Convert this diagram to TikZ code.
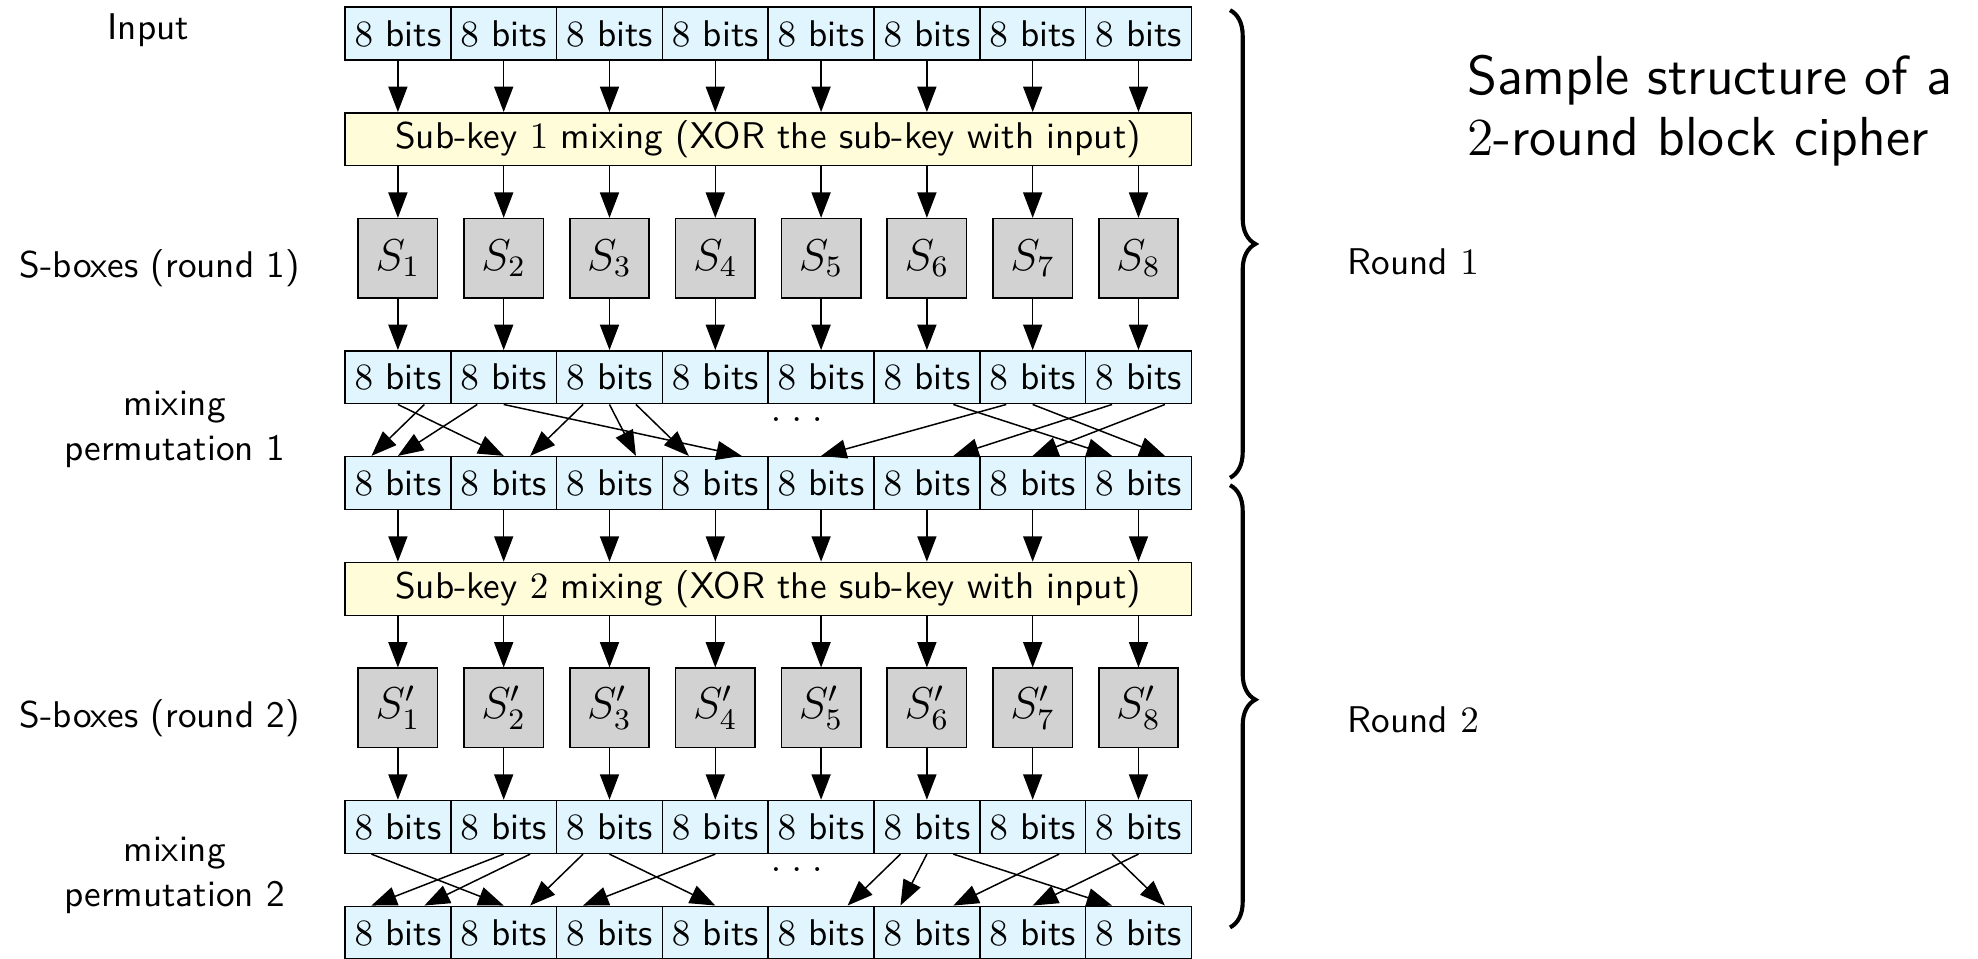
\documentclass[tikz,border=0pt]{standalone}
\usepackage{tikz}
\usetikzlibrary{arrows.meta, positioning, calc, decorations.pathreplacing}

\begin{document}
\begin{tikzpicture}[
    font=\sffamily,
    bits/.style={rectangle, draw, fill=cyan!12, minimum width=1cm,
                 minimum height=0.5cm, inner sep=0pt},
    keybox/.style={rectangle, draw, fill=yellow!15, minimum width=8cm,
                   minimum height=0.5cm, inner sep=0pt},
    sbox/.style={rectangle, draw, fill=gray!35, minimum width=0.75cm,
                 minimum height=0.75cm, inner sep=0pt, font=\large},
    arrow/.style={-{Triangle[length=2.4mm, width=1.8mm]}},
    bracket/.style={decorate, decoration={brace, amplitude=2.4mm, #1}, line width=1.1pt},
    bracket/.default={aspect=0.5},
    side/.style={inner sep=0pt, align=center}
]
    \useasboundingbox (-3.261, 0.316) rectangle (15.435, -8.739);

    % Rows of boxes
    \foreach \i in {1,...,8} {
        \node[bits] (x0-\i) at (\i-0.5, 0) {$8$ bits};
        \node[sbox] (s1-\i) at (\i-0.5, -2.125) {$S_{\i}$};
        \node[bits] (y1-\i) at (\i-0.5, -3.25) {$8$ bits};
        \node[bits] (x1-\i) at (\i-0.5, -4.25) {$8$ bits};
        \node[sbox] (s2-\i) at (\i-0.5, -6.375) {$S'_{\i}$};
        \node[bits] (y2-\i) at (\i-0.5, -7.5) {$8$ bits};
        \node[bits] (x2-\i) at (\i-0.5, -8.5) {$8$ bits};
    }
    \node[keybox] (k1) at (4, -1) {Sub-key $1$ mixing (XOR the sub-key with input)};
    \node[keybox] (k2) at (4, -5.25) {Sub-key $2$ mixing (XOR the sub-key with input)};

    % Straight arrows
    \foreach \i in {1,...,8} {
        \draw[arrow] (x0-\i) -- (x0-\i |- k1.north);
        \draw[arrow] (x0-\i |- k1.south) -- (s1-\i);
        \draw[arrow] (s1-\i) -- (y1-\i);
        \draw[arrow] (x1-\i) -- (x1-\i |- k2.north);
        \draw[arrow] (x1-\i |- k2.south) -- (s2-\i);
        \draw[arrow] (s2-\i) -- (y2-\i);
    }

    % Mixing permutations
    \foreach \a/\da/\b/\db in {1/0/2/0, 1/0.25/1/-0.25, 2/-0.25/1/0, 2/0/4/0.25,
                               3/-0.25/2/0.25, 3/0/3/0.25, 3/0.25/4/-0.25, 7/-0.25/5/0,
                               6/0.25/8/-0.25, 7/0/8/0.25, 8/-0.25/6/0.25, 8/0.25/7/0}
        \draw[arrow] ([xshift=\da cm]y1-\a.south) -- ([xshift=\db cm]x1-\b.north);
    \foreach \a/\da/\b/\db in {1/-0.25/2/0, 2/0/1/-0.25, 2/0.25/1/0.25, 3/-0.25/2/0.25,
                               3/0/4/0, 4/0/3/-0.25, 6/-0.25/5/0.25, 6/0/6/-0.25,
                               6/0.25/8/-0.25, 7/0.25/6/0.25, 8/-0.25/8/0.25, 8/0/7/0}
        \draw[arrow] ([xshift=\da cm]y2-\a.south) -- ([xshift=\db cm]x2-\b.north);
    \node[inner sep=0pt, anchor=base] (dots1) at (4.27, -3.67) {$.\;.\;.$};
    \node[inner sep=0pt, anchor=base] (dots2) at (4.27, -7.92) {$.\;.\;.$};

    % Labels
    \node[side] (lin) at (-1.86, 0.03) {Input};
    \node[side] (ls1) at (-1.75, -2.22) {S-boxes (round 1)};
    \node[side] (lp1) at (-1.61, -3.74) {mixing\\permutation 1};
    \node[side] (ls2) at (-1.75, -6.47) {S-boxes (round 2)};
    \node[side] (lp2) at (-1.61, -7.96) {mixing\\permutation 2};

    % Rounds
    \draw[bracket] (8.365, 0.22) -- (8.365, -4.20);
    \draw[bracket={aspect=0.485}] (8.365, -4.27) -- (8.365, -8.45);
    \node[side, anchor=west] (r1) at (9.47, -2.16) {Round $1$};
    \node[side, anchor=west] (r2) at (9.47, -6.49) {Round $2$};
    \node[side, anchor=west, align=left, font=\sffamily\fontsize{14.8}{16.2}\selectfont] (title)
        at (10.6, -0.73) {Sample structure of a\\$2$-round block cipher};
\end{tikzpicture}
\end{document}
